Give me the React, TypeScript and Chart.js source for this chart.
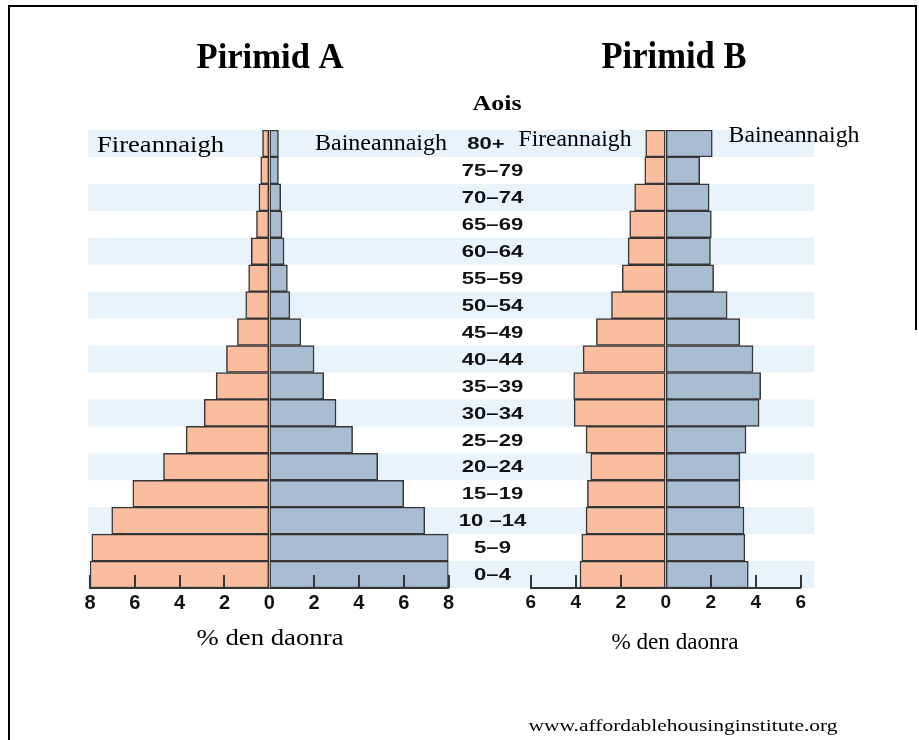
import React, { useEffect, useRef } from "react";
import { Chart, registerables } from "chart.js";

Chart.register(...registerables);

// ---- Data (index 0 = youngest group, drawn at the bottom) ----
const ageGroups = ["0–4", "5–9", "10 –14", "15–19", "20–24", "25–29", "30–34", "35–39", "40–44", "45–49", "50–54", "55–59", "60–64", "65–69", "70–74", "75–79", "80+"];
const maleA = [8.0, 7.92, 7.03, 6.09, 4.72, 3.71, 2.9, 2.37, 1.91, 1.42, 1.05, 0.92, 0.8, 0.57, 0.46, 0.38, 0.3];
const femaleA = [8.0, 8.0, 6.94, 6.0, 4.84, 3.72, 2.98, 2.43, 2.0, 1.41, 0.92, 0.81, 0.66, 0.57, 0.51, 0.41, 0.41];
const maleB = [3.81, 3.73, 3.54, 3.48, 3.33, 3.54, 4.07, 4.09, 3.67, 3.08, 2.41, 1.93, 1.67, 1.6, 1.38, 0.93, 0.89];
const femaleB = [3.67, 3.52, 3.48, 3.3, 3.3, 3.57, 4.15, 4.22, 3.88, 3.29, 2.73, 2.13, 1.99, 2.03, 1.93, 1.51, 2.07];
const rangeA = 8;
const rangeB = 6;
const tickStep = 2;

const titleA = "Pirimid A";
const titleB = "Pirimid B";
const ageTitle = "Aois";
const maleLabel = "Fireannaigh";
const femaleLabel = "Baineannaigh";
const axisTitle = "% den daonra";
const sourceText = "www.affordablehousinginstitute.org";

const W = 919;
const H = 740;
const MALE_COLOR = "#FABE9F";
const FEMALE_COLOR = "#A8BDD2";
const EDGE = "#363636";
const STRIPE = "#E9F3FB";

function fitText(ctx: CanvasRenderingContext2D, text: string, cx: number, baseline: number, font: string, width: number) {
  ctx.save();
  ctx.font = font;
  const w = ctx.measureText(text).width;
  ctx.translate(cx, baseline);
  ctx.scale(width / w, 1);
  ctx.textAlign = "center";
  ctx.textBaseline = "alphabetic";
  ctx.fillStyle = "#000";
  ctx.fillText(text, 0, 0);
  ctx.restore();
}

function tickMarks(chart: any, range: number) {
  const ctx = chart.ctx;
  const xs = chart.scales.x;
  const bottom = chart.chartArea.bottom;
  ctx.save();
  ctx.strokeStyle = EDGE;
  ctx.lineWidth = 2;
  for (let v = -range; v <= range; v += tickStep) {
    if (v === 0) continue;
    const px = Math.round(xs.getPixelForValue(v));
    ctx.beginPath();
    ctx.moveTo(px, bottom);
    ctx.lineTo(px, bottom - 13);
    ctx.stroke();
  }
  ctx.restore();
}

function makeConfig(male: number[], female: number[], range: number, left: number, right: number, tickSize: number, plugin: any) {
  return {
    type: "bar",
    data: {
      labels: ageGroups,
      datasets: [
        { label: maleLabel, data: male.map((v) => -v), backgroundColor: MALE_COLOR, borderColor: EDGE, borderWidth: 1.5, borderSkipped: false },
        { label: femaleLabel, data: female, backgroundColor: FEMALE_COLOR, borderColor: EDGE, borderWidth: 1.5, borderSkipped: false },
      ],
    },
    options: {
      indexAxis: "y",
      responsive: false,
      animation: false,
      devicePixelRatio: 1,
      layout: { padding: { left, right: W - right, top: 130, bottom: H - 588 - 30 } },
      datasets: { bar: { categoryPercentage: 1, barPercentage: 1 } },
      plugins: { legend: { display: false }, tooltip: { enabled: false }, title: { display: false } },
      scales: {
        x: {
          type: "linear",
          min: -range,
          max: range,
          stacked: true,
          afterFit: (s: any) => { s.height = 30; },
          ticks: {
            stepSize: tickStep,
            padding: 3,
            color: "#111",
            font: { family: "'Liberation Sans', Arial, sans-serif", weight: "bold", size: tickSize },
            callback: (v: any) => String(Math.abs(Number(v))),
          },
          grid: { display: true, drawOnChartArea: false, drawTicks: false },
          border: { display: true, color: EDGE, width: 2 },
        },
        y: { type: "category", stacked: true, reverse: true, display: false },
      },
    },
    plugins: [plugin],
  };
}

export default function App() {
  const refA = useRef<HTMLCanvasElement>(null);
  const refB = useRef<HTMLCanvasElement>(null);

  useEffect(() => {
    const decorA = {
      id: "decorA",
      beforeDraw(chart: any) {
        const ctx = chart.ctx;
        ctx.save();
        ctx.fillStyle = "#fff";
        ctx.fillRect(0, 0, W, H);
        ctx.restore();
      },
      beforeDatasetsDraw(chart: any) {
        const ctx = chart.ctx;
        const ys = chart.scales.y;
        const rowH = (chart.chartArea.bottom - chart.chartArea.top) / ageGroups.length;
        ctx.save();
        ctx.fillStyle = STRIPE;
        ageGroups.forEach((_, i) => {
          if (i % 2 !== 0) return;
          const cy = ys.getPixelForValue(i);
          ctx.fillRect(88, cy - rowH / 2, 814 - 88, rowH);
        });
        ctx.restore();
      },
      afterDatasetsDraw(chart: any) {
        tickMarks(chart, rangeA);
      },
      afterDraw(chart: any) {
        const ctx = chart.ctx;
        // frame
        ctx.save();
        ctx.fillStyle = "#000";
        ctx.fillRect(8, 5, 2, H - 5);
        ctx.fillRect(8, 5, 909, 2);
        ctx.fillRect(915, 5, 2, 325);
        ctx.restore();
        fitText(ctx, titleA, 270, 68, "bold 36px 'Liberation Serif'", 147);
        fitText(ctx, titleB, 674, 68, "bold 37px 'Liberation Serif'", 145);
        fitText(ctx, ageTitle, 497, 110, "bold 21px 'Liberation Serif'", 49);
        fitText(ctx, maleLabel, 160.5, 151.5, "24px 'Liberation Serif'", 127);
        fitText(ctx, femaleLabel, 381, 150, "24px 'Liberation Serif'", 132);
        fitText(ctx, maleLabel, 575, 146, "23px 'Liberation Serif'", 113);
        fitText(ctx, femaleLabel, 794, 142, "23px 'Liberation Serif'", 131);
        fitText(ctx, axisTitle, 270, 645, "24px 'Liberation Serif'", 147);
        fitText(ctx, axisTitle, 675, 649, "23px 'Liberation Serif'", 127);
        fitText(ctx, sourceText, 683, 731, "17px 'Liberation Serif'", 309);
      },
    };

    const decorB = {
      id: "decorB",
      afterDatasetsDraw(chart: any) {
        tickMarks(chart, rangeB);
      },
      afterDraw(chart: any) {
        const ctx = chart.ctx;
        const ys = chart.scales.y;
        ctx.save();
        ctx.font = "bold 17px 'Liberation Sans'";
        ctx.fillStyle = "#111";
        ctx.textAlign = "center";
        ctx.textBaseline = "middle";
        ageGroups.forEach((label, i) => {
          const cy = ys.getPixelForValue(i) + 1;
          const cx = label === "80+" ? 486 : 492.5;
          ctx.save();
          ctx.translate(cx, cy);
          ctx.scale(1.3, 1);
          ctx.fillText(label, 0, 0);
          ctx.restore();
        });
        ctx.restore();
      },
    };

    const chartA = new Chart(refA.current as any, makeConfig(maleA, femaleA, rangeA, 90, 448.5, 20, decorA) as any);
    const chartB = new Chart(refB.current as any, makeConfig(maleB, femaleB, rangeB, 530.7, 800.7, 19, decorB) as any);
    return () => {
      chartA.destroy();
      chartB.destroy();
    };
  }, []);

  return (
    <div style={{ position: "absolute", left: 0, top: 0, width: W, height: H, background: "#fff" }}>
      <canvas ref={refA} width={W} height={H} style={{ position: "absolute", left: 0, top: 0, width: W, height: H }} />
      <canvas ref={refB} width={W} height={H} style={{ position: "absolute", left: 0, top: 0, width: W, height: H }} />
    </div>
  );
}
